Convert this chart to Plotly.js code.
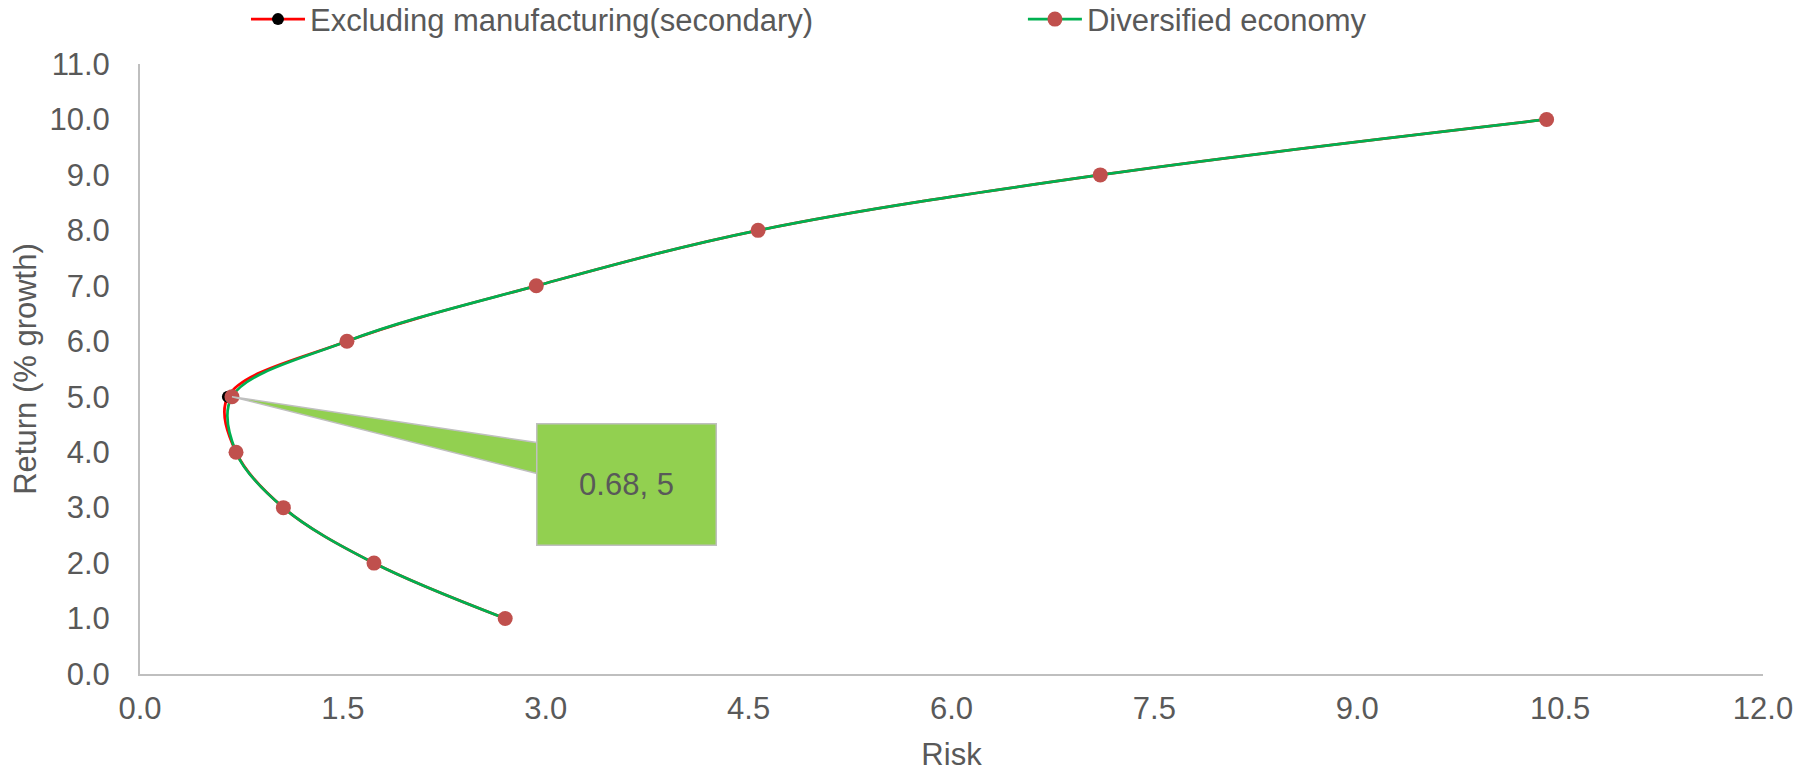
<!DOCTYPE html>
<html>
<head>
<meta charset="utf-8">
<script src="https://cdn.plot.ly/plotly-3.0.1.min.js"></script>
<style>
  html, body { margin: 0; padding: 0; background: #ffffff; }
  #chart { width: 1814px; height: 772px; }
</style>
</head>
<body>
<div id="chart"></div>
<script>
// Efficient frontier: return (% growth) against risk
const returns = [1, 2, 3, 4, 5, 6, 7, 8, 9, 10];
const riskExclManufacturing = [2.70, 1.73, 1.06, 0.71, 0.65, 1.53, 2.93, 4.57, 7.10, 10.40];
const riskDiversified = [2.70, 1.73, 1.06, 0.71, 0.68, 1.53, 2.93, 4.57, 7.10, 10.40];

const seriesNames = ['Excluding manufacturing(secondary)', 'Diversified economy'];

// Minimum-risk point of the diversified portfolio, labelled with a callout
const calloutRisk = 0.68;
const calloutReturn = 5;

const xTicks = [0, 1.5, 3, 4.5, 6, 7.5, 9, 10.5, 12];
const yTicks = [0, 1, 2, 3, 4, 5, 6, 7, 8, 9, 10, 11];

const FONT = 'Liberation Sans, Arial, sans-serif';
const TEXT = '#595959';
const AXIS = '#BFBFBF';
const FS = 31;

const traces = [
  {
    type: 'scatter', mode: 'lines+markers', name: seriesNames[0], legend: 'legend',
    x: riskExclManufacturing, y: returns,
    line: { color: '#FF0000', width: 2.75, shape: 'spline', smoothing: 1 },
    marker: { color: '#000000', size: 12 },
    hoverinfo: 'x+y'
  },
  {
    type: 'scatter', mode: 'lines+markers', name: seriesNames[1], legend: 'legend2',
    x: riskDiversified, y: returns,
    line: { color: '#00B050', width: 2.75, shape: 'spline', smoothing: 1 },
    marker: { color: '#C0504D', size: 15 },
    hoverinfo: 'x+y'
  }
];

const legendBase = {
  orientation: 'h', xanchor: 'left', y: 1.073, yanchor: 'middle',
  font: { family: FONT, color: TEXT, size: FS },
  bgcolor: 'rgba(0,0,0,0)', borderwidth: 0, itemwidth: 54
};

const layout = {
  width: 1814, height: 772,
  margin: { l: 140, r: 51, t: 64, b: 98, autoexpand: false },
  paper_bgcolor: '#ffffff', plot_bgcolor: '#ffffff',
  font: { family: FONT, color: TEXT, size: FS },
  showlegend: true,
  legend: Object.assign({}, legendBase, { x: 0.0653 }),
  legend2: Object.assign({}, legendBase, { x: 0.544 }),
  xaxis: {
    range: [0, 12], tickvals: xTicks, tickformat: '.1f',
    showgrid: false, zeroline: false, ticks: '',
    showline: true, linecolor: AXIS, linewidth: 2,
    ticklabelstandoff: 6,
    tickfont: { family: FONT, color: TEXT, size: FS },
    title: { text: 'Risk', font: { family: FONT, color: TEXT, size: FS }, standoff: 35 }
  },
  yaxis: {
    range: [0, 11], tickvals: yTicks, tickformat: '.1f',
    showgrid: false, zeroline: false, ticks: '',
    showline: true, linecolor: AXIS, linewidth: 2,
    ticklabelstandoff: 22,
    tickfont: { family: FONT, color: TEXT, size: FS },
    title: { text: 'Return (% growth)', font: { family: FONT, color: TEXT, size: FS }, standoff: 4 }
  },
  shapes: [
    {
      // callout pointer from the labelled point to its box
      type: 'path', layer: 'above',
      xref: 'x', yref: 'y', xsizemode: 'pixel', ysizemode: 'pixel',
      xanchor: calloutRisk, yanchor: calloutReturn,
      path: 'M0,0 L306,-46 L306,-77 Z',
      fillcolor: '#92D050', line: { color: AXIS, width: 1.5 }
    }
  ],
  annotations: [
    {
      x: calloutRisk, y: calloutReturn, xref: 'x', yref: 'y',
      text: calloutRisk.toFixed(2) + ', ' + calloutReturn,
      showarrow: false, xshift: 395, yshift: -88,
      width: 178, height: 120, borderpad: 0,
      bgcolor: '#92D050', bordercolor: AXIS, borderwidth: 1.5,
      font: { family: FONT, color: TEXT, size: FS },
      align: 'center', valign: 'middle'
    }
  ]
};

Plotly.newPlot('chart', traces, layout, { displayModeBar: false, staticPlot: true });
</script>
</body>
</html>
